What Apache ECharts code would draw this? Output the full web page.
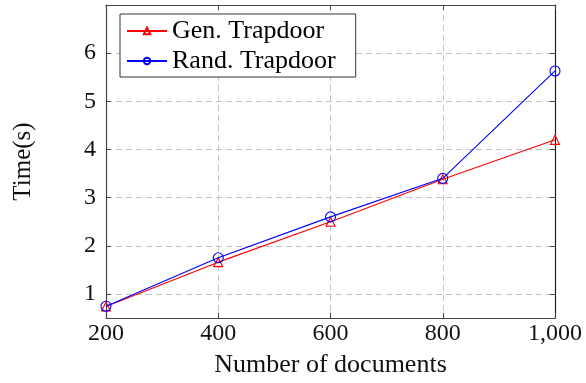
<!DOCTYPE html>
<html><head><meta charset="utf-8">
<script src="https://cdn.jsdelivr.net/npm/echarts@6/dist/echarts.min.js"></script>
<style>html,body{margin:0;padding:0;background:#fff}#c{width:586px;height:383px}</style>
</head><body><div id="c"></div>
<script>
// Trapdoor generation time versus collection size
const documents = [200, 400, 600, 800, 1000];
const genTrapdoor = [0.74, 1.66, 2.50, 3.38, 4.20];
const randTrapdoor = [0.745, 1.75, 2.60, 3.40, 5.63];
const yTicks = [1, 2, 3, 4, 5, 6];
const seriesNames = ['Gen. Trapdoor', 'Rand. Trapdoor'];

const serif = 'Liberation Serif';
const axisColor = '#444';
const gridColor = '#c4c4c4';

const pairs = (ys) => documents.map((x, i) => [x, ys[i]]);

const chart = echarts.init(document.getElementById('c'), null, { renderer: 'canvas' });

const tickStyle = { show: true, inside: true, length: 5, lineStyle: { color: axisColor, width: 1 } };

chart.setOption({
  animation: false,
  backgroundColor: '#fff',
  grid: { left: 106, right: 31, top: 5, bottom: 62 },
  legend: {
    orient: 'vertical',
    left: 120,
    top: 14,
    padding: [4, 20, 3, 6],
    itemGap: 4,
    itemWidth: 40,
    itemHeight: 8,
    borderColor: '#333',
    borderWidth: 1,
    backgroundColor: '#fff',
    textStyle: { fontFamily: serif, fontSize: 26, color: '#000' },
    data: seriesNames
  },
  xAxis: [
    {
      type: 'value', min: 200, max: 1000, interval: 200,
      name: 'Number of documents', nameLocation: 'middle', nameGap: 34,
      nameTextStyle: { fontFamily: serif, fontSize: 26, color: '#111' },
      axisLine: { show: true, onZero: false, lineStyle: { color: axisColor, width: 1.2 } },
      axisTick: tickStyle,
      axisLabel: { fontFamily: serif, fontSize: 24, color: '#111', margin: 4,
        formatter: (v) => v.toLocaleString('en-US') },
      splitLine: { show: true, lineStyle: { color: gridColor, type: [6, 4], width: 1 } }
    },
    {
      type: 'value', position: 'top', min: 200, max: 1000, interval: 200,
      axisLine: { show: true, onZero: false, lineStyle: { color: axisColor, width: 1.2 } },
      axisTick: tickStyle,
      axisLabel: { show: false },
      splitLine: { show: false }
    }
  ],
  yAxis: [
    {
      type: 'value', min: 0.5, max: 7,
      name: 'Time(s)', nameLocation: 'middle', nameGap: 70, nameRotate: 90,
      nameTextStyle: { fontFamily: serif, fontSize: 25, color: '#111' },
      axisLine: { show: true, onZero: false, lineStyle: { color: axisColor, width: 1.2 } },
      axisTick: Object.assign({ customValues: yTicks }, tickStyle),
      axisLabel: { fontFamily: serif, fontSize: 24, color: '#111', margin: 10, customValues: yTicks },
      splitLine: { show: true, lineStyle: { color: gridColor, type: [6, 4], width: 1 } }
    },
    {
      type: 'value', position: 'right', min: 0.5, max: 7,
      axisLine: { show: true, onZero: false, lineStyle: { color: '#222', width: 1.2 } },
      axisTick: Object.assign({ customValues: yTicks }, tickStyle),
      axisLabel: { show: false, customValues: yTicks },
      splitLine: { show: false }
    }
  ],
  series: [
    {
      name: seriesNames[0], type: 'line', data: pairs(genTrapdoor),
      symbol: 'triangle', symbolSize: 9, showAllSymbol: true,
      lineStyle: { color: '#ff0000', width: 1.1 },
      itemStyle: { color: 'rgba(255,255,255,0)', borderColor: '#ff0000', borderWidth: 1.1 },
      z: 3
    },
    {
      name: seriesNames[1], type: 'line', data: pairs(randTrapdoor),
      symbol: 'circle', symbolSize: 10, showAllSymbol: true,
      lineStyle: { color: '#0000ff', width: 1.1 },
      itemStyle: { color: 'rgba(255,255,255,0)', borderColor: '#0000ff', borderWidth: 1.1 },
      z: 4
    }
  ]
});
</script>
</body></html>
